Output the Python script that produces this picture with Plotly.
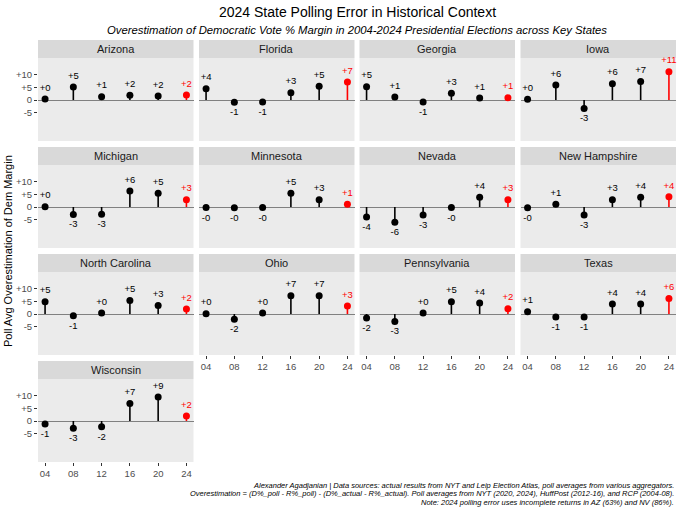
import plotly.graph_objects as go

# ---------------- data ----------------
states = ["Arizona", "Florida", "Georgia", "Iowa",
          "Michigan", "Minnesota", "Nevada", "New Hampshire",
          "North Carolina", "Ohio", "Pennsylvania", "Texas",
          "Wisconsin"]
years = [2004, 2008, 2012, 2016, 2020, 2024]
year_labels = ["04", "08", "12", "16", "20", "24"]

arizona = [0.4, 5.1, 1.3, 1.9, 1.6, 2.0]
florida = [4.4, -0.9, -0.8, 2.9, 5.4, 7.1]
georgia = [5.2, 1.2, -0.8, 2.7, 0.8, 0.9]
iowa = [0.3, 5.9, -3.3, 6.4, 7.3, 11.1]
michigan = [0.1, -2.9, -2.8, 6.3, 5.4, 2.9]
minnesota = [-0.2, -0.3, -0.2, 5.4, 2.9, 1.1]
nevada = [-3.9, -6.0, -3.1, -0.2, 3.8, 2.9]
new_hampshire = [-0.3, 1.1, -3.1, 2.9, 3.8, 4.0]
north_carolina = [4.8, -0.7, 0.4, 5.3, 3.3, 2.0]
ohio = [0.1, -2.1, 0.4, 7.2, 7.2, 3.1]
pennsylvania = [-1.6, -2.9, 0.4, 4.8, 4.3, 2.1]
texas = [0.9, -1.2, -1.2, 3.9, 3.9, 6.1]
wisconsin = [-1.2, -2.8, -2.3, 6.9, 9.4, 2.0]

state_values = [arizona, florida, georgia, iowa, michigan, minnesota, nevada,
                new_hampshire, north_carolina, ohio, pennsylvania, texas, wisconsin]

ytick_vals = [-5, 0, 5, 10]
ytick_text = ["-5", "0", "+5", "+10"]

# ---------------- layout geometry ----------------
W, H = 680, 510
col_left = [38, 199, 359.5, 520.5]
panel_w = 155.5
row_top = [40, 147, 254, 361]
strip_h = 18
plot_h = 83
Y_RANGE = [-16.1, 16.5]
LABEL_OFFSET = 4.2  # label distance from point, in axis units

FONT = "Liberation Sans, Arial, Helvetica, sans-serif"
BLACK = "#000000"
RED = "#FF0000"
GREY_TXT = "#4d4d4d"


def fmt(v):
    s = "+" if v >= 0 else "-"
    return f"{s}{int(abs(v) + 0.5)}"


fig = go.Figure()
layout_axes = {}
shapes = []
annotations = []

n = len(states)
for i, (name, vals) in enumerate(zip(states, state_values)):
    r, c = divmod(i, 4)
    k = i + 1
    xref = "x" if k == 1 else f"x{k}"
    yref = "y" if k == 1 else f"y{k}"
    xkey = "xaxis" if k == 1 else f"xaxis{k}"
    ykey = "yaxis" if k == 1 else f"yaxis{k}"

    x0 = col_left[c] / W
    x1 = (col_left[c] + panel_w) / W
    ptop = row_top[r] + strip_h
    pbot = ptop + plot_h
    yd = [1 - pbot / H, 1 - ptop / H]

    colors = [BLACK] * (len(years) - 1) + [RED]

    # stems
    for col in (BLACK, RED):
        xs, ys = [], []
        for yr, v, cc in zip(years, vals, colors):
            if cc == col:
                xs += [yr, yr, None]
                ys += [0, v, None]
        fig.add_trace(go.Scatter(x=xs, y=ys, mode="lines",
                                 line=dict(color=col, width=1.6),
                                 xaxis=xref, yaxis=yref, showlegend=False,
                                 hoverinfo="skip"))
    # points
    fig.add_trace(go.Scatter(
        x=years, y=vals, mode="markers",
        marker=dict(color=colors, size=7),
        xaxis=xref, yaxis=yref, showlegend=False, cliponaxis=False))
    # labels
    fig.add_trace(go.Scatter(
        x=years,
        y=[v + LABEL_OFFSET if v >= 0 else v - LABEL_OFFSET for v in vals],
        mode="text", text=[fmt(v) for v in vals],
        textposition="middle center",
        textfont=dict(family=FONT, size=9.5, color=colors),
        xaxis=xref, yaxis=yref, showlegend=False, cliponaxis=False,
        hoverinfo="skip"))

    bottom_panel = (i >= n - 4)
    layout_axes[xkey] = dict(
        domain=[x0, x1], anchor=yref, range=[2003, 2025],
        showgrid=False, zeroline=False, showline=False,
        tickvals=years, ticktext=year_labels,
        showticklabels=bottom_panel,
        ticks="outside" if bottom_panel else "", ticklen=3, tickwidth=1,
        tickcolor="#333333",
        tickfont=dict(family=FONT, size=9.5, color=GREY_TXT),
        fixedrange=True)
    layout_axes[ykey] = dict(
        domain=yd, anchor=xref, range=Y_RANGE,
        showgrid=False, zeroline=True, zerolinecolor="#808080",
        zerolinewidth=1, showline=False,
        tickvals=ytick_vals, ticktext=ytick_text,
        showticklabels=(c == 0),
        ticks="outside" if c == 0 else "", ticklen=3, tickwidth=1,
        tickcolor="#333333",
        tickfont=dict(family=FONT, size=9.5, color=GREY_TXT),
        fixedrange=True)

    # strip
    shapes.append(dict(type="rect", xref="paper", yref="paper",
                       x0=x0, x1=x1, y0=1 - ptop / H, y1=1 - row_top[r] / H,
                       fillcolor="#d9d9d9", line=dict(width=0), layer="below"))
    annotations.append(dict(text=name, xref="paper", yref="paper",
                            x=(x0 + x1) / 2, y=1 - (row_top[r] + strip_h / 2) / H,
                            xanchor="center", yanchor="middle", showarrow=False,
                            font=dict(family=FONT, size=11, color="#1a1a1a")))

# titles (centred over the panel area, as ggplot does)
title_cx = (col_left[0] + col_left[3] + panel_w) / 2 / W
annotations.append(dict(text="2024 State Polling Error in Historical Context",
                        xref="paper", yref="paper", x=title_cx, y=1 - 12 / H,
                        xanchor="center", yanchor="middle", showarrow=False,
                        font=dict(family=FONT, size=14, color="#000000")))
annotations.append(dict(text="<i>Overestimation of Democratic Vote % Margin in 2004-2024 Presidential Elections across Key States</i>",
                        xref="paper", yref="paper", x=title_cx, y=1 - 30 / H,
                        xanchor="center", yanchor="middle", showarrow=False,
                        font=dict(family=FONT, size=11.3, color="#000000")))
annotations.append(dict(text="Poll Avg Overestimation of Dem Margin",
                        xref="paper", yref="paper", x=8 / W, y=1 - 251 / H,
                        xanchor="center", yanchor="middle", showarrow=False,
                        textangle=-90,
                        font=dict(family=FONT, size=11, color="#000000")))

caption_lines = [
    "Alexander Agadjanian | Data sources: actual results from NYT and Leip Election Atlas, poll averages from various aggregators.",
    "Overestimation = (D%_poll - R%_poll) - (D%_actual - R%_actual). Poll averages from NYT (2020, 2024), HuffPost (2012-16), and RCP (2004-08).",
    "Note: 2024 polling error uses incomplete returns in AZ (63%) and NV (86%).",
]
for j, line in enumerate(caption_lines):
    annotations.append(dict(text=f"<i>{line}</i>", xref="paper", yref="paper",
                            x=676 / W, y=1 - (485 + j * 8.5) / H,
                            xanchor="right", yanchor="middle", showarrow=False,
                            font=dict(family=FONT, size=7.5, color="#000000")))

fig.update_layout(
    width=W, height=H, autosize=False,
    margin=dict(l=0, r=0, t=0, b=0),
    paper_bgcolor="white", plot_bgcolor="#ebebeb",
    shapes=shapes, annotations=annotations,
    font=dict(family=FONT),
    **layout_axes)

fig.write_html("out.html", config={"displayModeBar": False},
               post_script="document.body.style.margin='0px';document.body.style.overflow='hidden';")
